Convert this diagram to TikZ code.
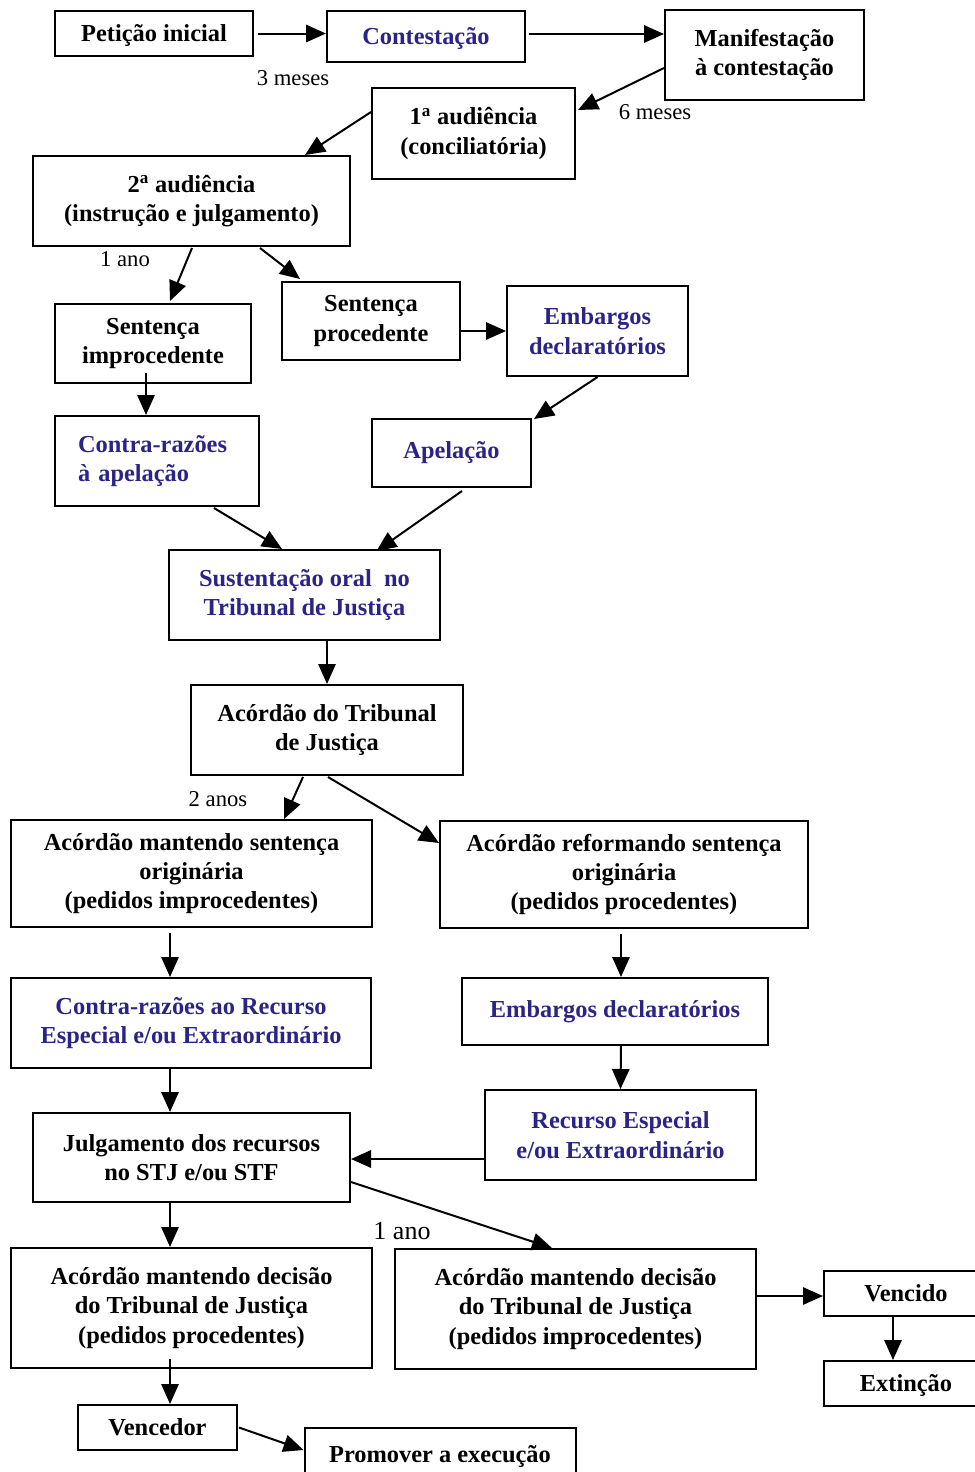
\documentclass[tikz,border=0pt]{standalone}
\usepackage{fontspec}
\setmainfont{Liberation Serif}
\usetikzlibrary{arrows.meta}
\definecolor{azul}{RGB}{42,36,135}

\tikzset{
  bx/.style={draw, line width=1.5pt, inner sep=0pt, align=center,
    font=\fontsize{18.3}{22}\selectfont\bfseries},
  wh/.style 2 args={minimum width=#1*0.75pt, minimum height=#2*0.75pt},
  low/.style={text height=1.35em, text depth=0.1em},
  blu/.style={text=azul},
  seta/.style={line width=1.5pt, -{Triangle[length=15pt,width=13pt]}},
  rot/.style={inner sep=0pt, font=\fontsize{17}{20}\selectfont},
}

\begin{document}
\begin{tikzpicture}[x=0.75pt, y=-0.75pt]
\useasboundingbox (0,0) rectangle (975,1472);

% first-instance phase
\node[bx, low, wh={198}{45}] (pet) at (154,33.5) {Petição inicial};
\node[bx, low, blu, wh={198}{51}] (cont) at (426,36.5) {Contestação};
\node[bx, wh={199}{90}] (man) at (764.5,55) {Manifestação\\à contestação};
\node[bx, wh={203}{91}] (aud1) at (473.5,133.5) {1\textsuperscript{a} audiência\\(conciliatória)};
\node[bx, wh={317}{90}] (aud2) at (191.5,201) {2\textsuperscript{a} audiência\\(instrução e julgamento)};
\node[bx, wh={196}{79}] (simp) at (153,343.5) {Sentença\\improcedente};
\node[bx, wh={178}{78}] (sproc) at (371,321) {Sentença\\procedente};
\node[bx, blu, wh={181}{90}] (emb1) at (597.5,331) {Embargos\\declaratórios};
\node[bx, blu, align=left, inner xsep=23*0.75pt, text width=158*0.75pt,
      minimum height=90*0.75pt] (crap) at (157,461) {Contra-razões\\à apelação};
\node[bx, blu, wh={159}{68}] (apel) at (451.5,453) {Apelação};

% appeal to the state court
\node[bx, blu, wh={271}{90}] (sust) at (304.5,595) {Sustentação oral~ no\\Tribunal de Justiça};
\node[bx, wh={272}{90}] (atj) at (327,730) {Acórdão do Tribunal\\de Justiça};
\node[bx, wh={361}{107}] (ams) at (191.5,873.5) {Acórdão mantendo sentença\\originária\\(pedidos improcedentes)};
\node[bx, wh={368}{107}] (ars) at (624,874.5) {Acórdão reformando sentença\\originária\\(pedidos procedentes)};
\node[bx, blu, wh={360}{90}] (crre) at (191,1023) {Contra-razões ao Recurso\\Especial e/ou Extraordinário};
\node[bx, blu, wh={306}{67}] (emb2) at (615,1011.5) {Embargos declaratórios};
\node[bx, blu, wh={271}{90}] (resp) at (620.5,1135) {Recurso Especial\\e/ou Extraordinário};

% higher courts and outcome
\node[bx, wh={317}{89}] (julg) at (191.5,1157.5) {Julgamento dos recursos\\no STJ e/ou STF};
\node[bx, wh={361}{120}] (amdp) at (191.5,1308) {Acórdão mantendo decisão\\do Tribunal de Justiça\\(pedidos procedentes)};
\node[bx, wh={361}{120}] (amdi) at (575.5,1309) {Acórdão mantendo decisão\\do Tribunal de Justiça\\(pedidos improcedentes)};
\node[bx, low, wh={164}{45}] (venc) at (906,1293.5) {Vencido};
\node[bx, low, wh={164}{45}] (ext) at (906,1383.5) {Extinção};
\node[bx, low, wh={159}{45}] (vcdr) at (157.5,1427.5) {Vencedor};
\node[bx, wh={271}{56}] (prom) at (440,1456) {Promover a execução};

% time labels
\node[rot] (t1) at (293,78) {3 meses};
\node[rot] (t2) at (655,112) {6 meses};
\node[rot] (t3) at (125,259) {1 ano};
\node[rot] (t4) at (218,799) {2 anos};
\node[rot, font=\fontsize{19.5}{22}\selectfont] (t5) at (402,1231) {1 ano};

% connectors
\draw[seta] ([shift={(4,0)}]pet.east) -- (pet.east -| cont.west);
\draw[seta] ([shift={(3,-2.5)}]cont.east) -- ([shift={(0,-2.5)}]cont.east -| man.west);
\draw[seta] ([shift={(0,13)}]man.west) -- ([shift={(2,-23.5)}]aud1.east);
\draw[seta] ([shift={(0,-21.5)}]aud1.west) -- ([shift={(113.5,0)}]aud2.north);
\draw[seta] ([shift={(0.5,1)}]aud2.south) -- ([shift={(17,-2)}]simp.north);
\draw[seta] ([shift={(68.5,1)}]aud2.south) -- ([shift={(-71,-2)}]sproc.north);
\draw[seta] ([shift={(-7,-11)}]simp.south) -- ([shift={(-11,0)}]crap.north);
\draw[seta] ([shift={(0,10)}]sproc.east) -- (emb1.west);
\draw[seta] (emb1.south) -- ([shift={(2,1)}]apel.north east);
\draw[seta] ([shift={(57,1)}]crap.south) -- ([shift={(-22.5,0)}]sust.north);
\draw[seta] ([shift={(10.5,3)}]apel.south) -- ([shift={(72,2)}]sust.north);
\draw[seta] (atj.north |- sust.south) -- (atj.north);
\draw[seta] ([shift={(-24,1)}]atj.south) -- ([shift={(92.5,0)}]ams.north);
\draw[seta] ([shift={(1,1)}]atj.south) -- ([shift={(0,-31.5)}]ars.west);
\draw[seta] ([shift={(-21.5,5)}]ams.south) -- ([shift={(-21,0)}]crre.north);
\draw[seta] ([shift={(-3,5)}]ars.south) -- ([shift={(6,0)}]emb2.north);
\draw[seta] ([shift={(-21,0)}]crre.south) -- ([shift={(-21.5,0)}]julg.north);
\draw[seta] ([shift={(6,0)}]emb2.south) -- (resp.north);
\draw[seta] ([shift={(0,24)}]resp.west) -- ([shift={(0,1.5)}]julg.east);
\draw[seta] ([shift={(-21.5,0)}]julg.south) -- ([shift={(-21.5,0)}]amdp.north);
\draw[seta] ([shift={(0,24.5)}]julg.east) -- ([shift={(-23.5,0)}]amdi.north);
\draw[seta] ([shift={(0,-13)}]amdi.east) -- ([shift={(0,2.5)}]venc.west);
\draw[seta] ([shift={(-13,0)}]venc.south) -- ([shift={(-13,0)}]ext.north);
\draw[seta] ([shift={(-21.5,-10)}]amdp.south) -- ([shift={(12.5,0)}]vcdr.north);
\draw[seta] ([shift={(1,0)}]vcdr.east) -- ([shift={(0,-6)}]prom.west);
\end{tikzpicture}
\end{document}
